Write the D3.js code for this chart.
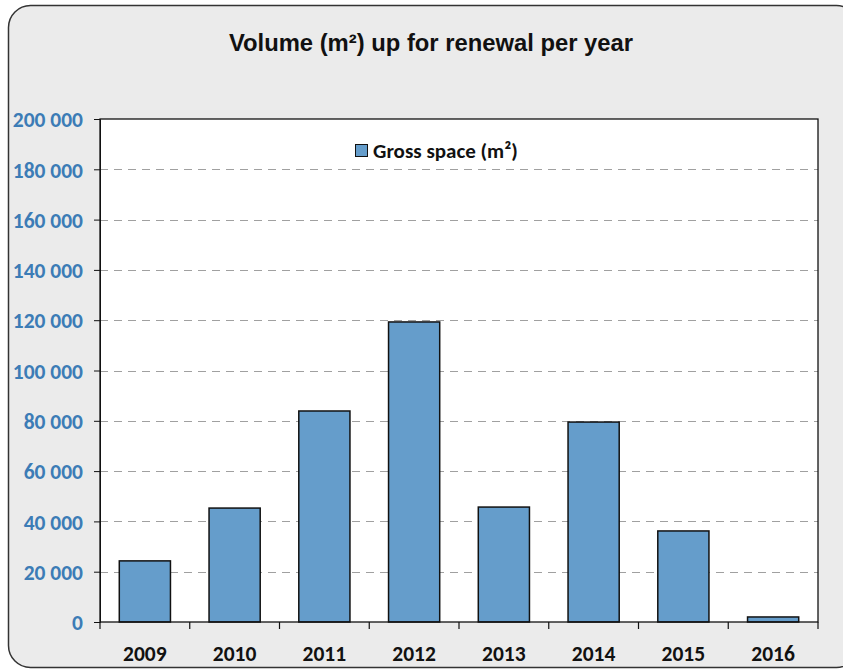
<!DOCTYPE html>
<html><head><meta charset="utf-8">
<script src="https://cdn.jsdelivr.net/npm/d3@7"></script>
<style>body{margin:0;background:#fff}svg{display:block}</style>
</head><body>
<script>
const years = ["2009","2010","2011","2012","2013","2014","2015","2016"];
const grossSpace = [24300, 45300, 83900, 119300, 45700, 79500, 36200, 2000];
const yTicks = [0,20000,40000,60000,80000,100000,120000,140000,160000,180000,200000];
const seriesName = "Gross space (m²)";
const title = "Volume (m²) up for renewal per year";

const W = 843, H = 670;
const FONT = "Carlito, Calibri, 'Open Sans', sans-serif";
const svg = d3.select("body").append("svg").attr("width", W).attr("height", H);
svg.append("rect").attr("x", 8.5).attr("y", 5.5).attr("width", 850).attr("height", 662)
  .attr("rx", 22).attr("fill", "#ebebeb").attr("stroke", "#333").attr("stroke-width", 1.5);

const L = 100, R = 818, T = 119, B = 622;
const x = d3.scaleBand().domain(years).range([L, R]).paddingInner(0.43).paddingOuter(0.215);
const xb = d3.scaleBand().domain(years).range([L, R]);
const y = d3.scaleLinear().domain([0, 200000]).range([B, T]);

svg.append("rect").attr("x", L).attr("y", T).attr("width", R - L).attr("height", B - T)
  .attr("fill", "#fff");

svg.append("g").selectAll("line").data(yTicks.filter(d => d > 0 && d < 200000)).join("line")
  .attr("x1", L).attr("x2", R).attr("y1", d => Math.round(y(d)) + 0.5).attr("y2", d => Math.round(y(d)) + 0.5)
  .attr("stroke", "#a0a0a0").attr("stroke-width", 1.2).attr("stroke-dasharray", "8,6");

svg.append("g").selectAll("rect").data(grossSpace).join("rect")
  .attr("x", (d, i) => x(years[i])).attr("width", x.bandwidth())
  .attr("y", d => y(d)).attr("height", d => B - y(d))
  .attr("fill", "#659dcb").attr("stroke", "#111").attr("stroke-width", 1.5);

svg.append("rect").attr("x", L).attr("y", T).attr("width", R - L).attr("height", B - T)
  .attr("fill", "none").attr("stroke", "#111").attr("stroke-width", 1.3);

// y axis
const fmt = d => d3.format(",")(d).replace(/,/g, " ");
const ya = svg.append("g").attr("transform", `translate(${L},0)`)
  .call(d3.axisLeft(y).tickValues(yTicks).tickFormat(fmt).tickSize(6).tickPadding(11));
ya.select(".domain").attr("stroke", "#111");
ya.selectAll(".tick line").attr("stroke", "#111");
ya.selectAll("text").attr("fill", "#3c7cb6").attr("font-family", FONT)
  .attr("font-weight", "bold").attr("font-size", 21.5).attr("dy", "0.36em");

// x axis
const xa = svg.append("g").attr("transform", `translate(0,${B})`)
  .call(d3.axisBottom(xb).tickSize(0).tickPadding(24));
xa.select(".domain").remove();
xa.selectAll("text").attr("fill", "#111").attr("font-family", FONT)
  .attr("font-weight", "bold").attr("font-size", 21.5);
svg.append("g").selectAll("line").data(d3.range(years.length + 1)).join("line")
  .attr("x1", i => L + i * xb.step()).attr("x2", i => L + i * xb.step())
  .attr("y1", B).attr("y2", B + 7).attr("stroke", "#111").attr("stroke-width", 1.2);

svg.append("text").attr("x", 431).attr("y", 51).attr("text-anchor", "middle")
  .attr("font-family", "'Liberation Sans', Arial, sans-serif").attr("font-weight", "bold")
  .attr("font-size", 23.8).attr("fill", "#111").text(title);

const lg = svg.append("g");
lg.append("rect").attr("x", 355.5).attr("y", 144.5).attr("width", 12).attr("height", 12)
  .attr("fill", "#659dcb").attr("stroke", "#111").attr("stroke-width", 1);
lg.append("text").attr("x", 373).attr("y", 158).attr("font-family", FONT)
  .attr("font-weight", "bold").attr("font-size", 21).attr("fill", "#111").text(seriesName);
</script>
</body></html>
